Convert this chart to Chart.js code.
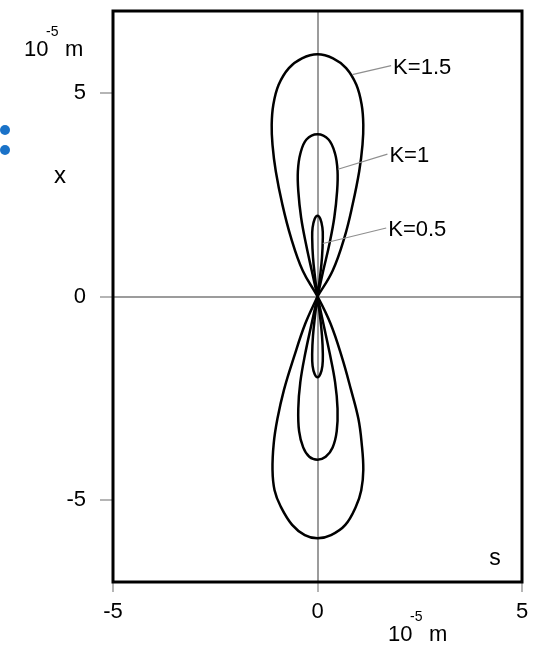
<!DOCTYPE html>
<html>
<head>
<meta charset="utf-8">
<script src="https://cdn.jsdelivr.net/npm/chart.js@4/dist/chart.umd.min.js"></script>
<style>
  html, body { margin: 0; padding: 0; background: #fff; }
  #wrap { width: 544px; height: 645px; position: relative; }
</style>
</head>
<body>
<div id="wrap"><canvas id="c" width="544" height="645"></canvas></div>
<script>
// Axis ranges and tick labels (units of 10^-5 m)
const sRange = [-5, 5];
const xRange = [-7, 7];
const sTicks = [-5, 0, 5];
const xTicks = [-5, 0, 5];

// Figure-eight trajectories, traced through the origin: s (horizontal) and x (vertical)
const k15S = [0, 0.37, 0.66, 0.86, 1.02, 1.10, 1.12, 1.08, 0.95, 0.70, 0.38, 0,
  -0.38, -0.70, -0.95, -1.08, -1.12, -1.10, -1.02, -0.86, -0.65, -0.36, 0,
  0.32, 0.60, 0.82, 1.00, 1.08, 1.12, 1.07, 0.94, 0.68, 0.33, 0,
  -0.31, -0.62, -0.90, -1.05, -1.10, -1.07, -0.98, -0.82, -0.58, -0.30, 0];
const k15X = [0, 0.63, 1.45, 2.26, 3.07, 3.72, 4.21, 4.70, 5.19, 5.60, 5.84, 5.94,
  5.84, 5.60, 5.19, 4.70, 4.21, 3.72, 3.07, 2.26, 1.45, 0.63, 0,
  -0.67, -1.50, -2.29, -3.00, -3.60, -4.25, -4.75, -5.15, -5.60, -5.85, -5.93,
  -5.85, -5.60, -5.15, -4.75, -4.25, -3.60, -3.00, -2.29, -1.50, -0.67, 0];

const k10S = [0, 0.14, 0.29, 0.41, 0.48, 0.49, 0.43, 0.27, 0,
  -0.27, -0.42, -0.48, -0.47, -0.40, -0.28, -0.14, 0,
  0.14, 0.30, 0.43, 0.49, 0.47, 0.37, 0.20, 0,
  -0.20, -0.35, -0.45, -0.47, -0.42, -0.30, -0.14, 0];
const k10X = [0, 0.63, 1.28, 1.93, 2.59, 3.07, 3.50, 3.85, 3.98,
  3.85, 3.50, 3.07, 2.59, 1.93, 1.28, 0.63, 0,
  -0.65, -1.40, -2.10, -2.75, -3.30, -3.70, -3.93, -4.00,
  -3.93, -3.70, -3.30, -2.75, -2.10, -1.40, -0.65, 0];

const k05S = [0, 0.06, 0.11, 0.13, 0.12, 0.07, 0,
  -0.07, -0.12, -0.13, -0.11, -0.06, 0,
  0.06, 0.11, 0.13, 0.12, 0.07, 0,
  -0.07, -0.12, -0.13, -0.11, -0.06, 0];
const k05X = [0, 0.47, 0.96, 1.45, 1.69, 1.90, 1.98,
  1.90, 1.69, 1.45, 0.96, 0.47, 0,
  -0.47, -0.96, -1.40, -1.70, -1.90, -1.98,
  -1.90, -1.70, -1.40, -0.96, -0.47, 0];

// Curve labels: text, point on the curve, end of the leader line (data units)
const curveLabels = ['K=1.5', 'K=1', 'K=0.5'];
const leaderFrom = [[0.85, 5.44], [0.50, 3.12], [0.13, 1.30]];
const leaderTo = [[1.80, 5.66], [1.71, 3.49], [1.68, 1.68]];

const FONT = 'Liberation Sans, Arial, Helvetica, sans-serif';

function pts(sArr, xArr) {
  return sArr.map((s, i) => ({ x: s, y: xArr[i] }));
}

function curve(label, sArr, xArr) {
  return {
    label: label,
    data: pts(sArr, xArr),
    showLine: true,
    borderColor: '#000',
    borderWidth: 2.5,
    pointRadius: 0,
    tension: 0.4,
    fill: false
  };
}

const decorations = {
  id: 'decorations',
  afterDatasetsDraw(chart) {
    const { ctx, chartArea: a, scales } = chart;
    const sx = v => scales.x.getPixelForValue(v);
    const sy = v => scales.y.getPixelForValue(v);
    ctx.save();

    // plot frame
    ctx.strokeStyle = '#000';
    ctx.lineWidth = 3;
    ctx.strokeRect(a.left, a.top, a.right - a.left, a.bottom - a.top);

    // leader lines and curve labels
    ctx.strokeStyle = '#8f8f8f';
    ctx.lineWidth = 1.2;
    ctx.fillStyle = '#000';
    ctx.font = '22px ' + FONT;
    ctx.textBaseline = 'middle';
    ctx.textAlign = 'left';
    curveLabels.forEach((t, i) => {
      const x0 = sx(leaderFrom[i][0]), y0 = sy(leaderFrom[i][1]);
      const x1 = sx(leaderTo[i][0]), y1 = sy(leaderTo[i][1]);
      ctx.beginPath();
      ctx.moveTo(x0, y0);
      ctx.lineTo(x1, y1);
      ctx.stroke();
      ctx.fillText(t, x1 + 2, y1 + 2);
    });

    // axis names
    ctx.font = '24px ' + FONT;
    ctx.textAlign = 'center';
    ctx.fillText('x', 60, 176);
    ctx.font = '23px ' + FONT;
    ctx.fillText('s', 495, 559);

    // unit labels 10^-5 m
    ctx.textBaseline = 'alphabetic';
    ctx.textAlign = 'left';
    function unit(x, y) {
      ctx.font = '22px ' + FONT;
      ctx.fillText('10', x, y);
      ctx.fillText('m', x + 41, y);
      ctx.font = '14px ' + FONT;
      ctx.fillText('-5', x + 22, y - 20);
    }
    unit(24, 56);
    unit(388, 641);

    // two blue markers at the left edge
    ctx.fillStyle = '#1a72c8';
    [130, 150].forEach(y => {
      ctx.beginPath();
      ctx.arc(5, y, 5, 0, Math.PI * 2);
      ctx.fill();
    });
    ctx.restore();
  }
};

const zeroGrid = c => (c.tick && c.tick.value === 0) ? '#9c9c9c' : 'rgba(0,0,0,0)';

new Chart(document.getElementById('c'), {
  type: 'scatter',
  data: {
    datasets: [
      curve('K=1.5', k15S, k15X),
      curve('K=1', k10S, k10X),
      curve('K=0.5', k05S, k05X)
    ]
  },
  options: {
    responsive: false,
    animation: false,
    devicePixelRatio: 1,
    layout: { padding: { left: 0, right: 22, top: 11, bottom: 0 } },
    plugins: { legend: { display: false }, tooltip: { enabled: false } },
    scales: {
      x: {
        type: 'linear',
        min: sRange[0], max: sRange[1],
        afterBuildTicks: s => { s.ticks = sTicks.map(v => ({ value: v })); },
        afterFit: s => { s.height = 63; s.paddingLeft = 0; s.paddingRight = 0; },
        border: { display: false },
        grid: { color: zeroGrid, lineWidth: 2, drawTicks: true, tickLength: 10, tickColor: '#9c9c9c', tickWidth: 1.5 },
        ticks: { color: '#000', font: { family: FONT, size: 22 }, padding: 7, maxRotation: 0 }
      },
      y: {
        type: 'linear',
        min: xRange[0], max: xRange[1],
        afterBuildTicks: s => { s.ticks = xTicks.map(v => ({ value: v })); },
        afterFit: s => { s.width = 113; s.paddingTop = 0; s.paddingBottom = 0; },
        border: { display: false },
        grid: { color: zeroGrid, lineWidth: 2, drawTicks: true, tickLength: 13, tickColor: '#9c9c9c', tickWidth: 1.5 },
        ticks: { color: '#000', font: { family: FONT, size: 22 }, padding: 14 }
      }
    }
  },
  plugins: [decorations]
});
</script>
</body>
</html>
